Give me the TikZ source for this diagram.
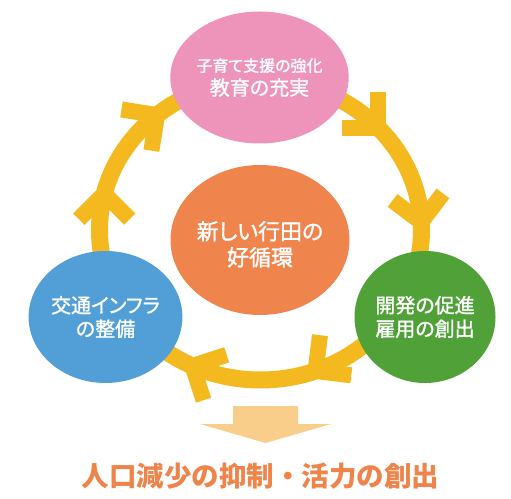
\documentclass[tikz,border=0pt]{standalone}
\usepackage{fontspec}
\usetikzlibrary{positioning,shapes.geometric}
\newfontfamily\jpfont[RawFeature={+palt;embolden=1.3}]{Noto Sans CJK JP}
\newfontfamily\jpwide{Noto Sans CJK JP}
\definecolor{RingYellow}{RGB}{243,185,31}
\definecolor{SoftPink}{RGB}{238,147,185}
\definecolor{HubOrange}{RGB}{239,133,77}
\definecolor{SkyBlue}{RGB}{82,158,214}
\definecolor{LeafGreen}{RGB}{80,162,56}
\definecolor{PaleOrange}{RGB}{249,205,138}
\definecolor{TextOrange}{RGB}{239,132,75}
\tikzset{
  stage/.style={ellipse,inner sep=0pt,minimum width=141pt,minimum height=132pt,
    text=white,align=center,font=\jpfont\fontsize{20}{23.5}\selectfont},
  hub/.style={stage,fill=HubOrange,minimum width=162pt,minimum height=150pt,
    font=\jpfont\fontsize{22}{26}\selectfont},
  ring/.style={RingYellow,line width=17pt},
  chevron/.style={RingYellow,line width=16pt},
  outflow/.style={fill=PaleOrange},
  result/.style={text=TextOrange,inner sep=0pt,
    font=\jpwide\bfseries\fontsize{27.5}{30}\selectfont}
}
\begin{document}
\begin{tikzpicture}[x=1pt,y=1pt]
  \useasboundingbox (0,0) rectangle (511,498);
  \coordinate (centre) at (260.5,268);
  % the cycle ring and its chevrons
  \draw[ring] (centre) ellipse [x radius=161,y radius=150];
  \foreach \t/\b in {43/135,3/98,-70/38,-115/-27,166/270,130/216}
    \draw[chevron] (centre) ++(\t:161 and 150) ++(\b+45:36)
      -- ++(\b+225:36) -- ++(\b-45:36);
  \node[hub] (hub) at (260,258) {\rule{0pt}{27pt}新しい行田の\\好循環};
  \node[stage,fill=SoftPink] (education) at (259.5,420.5)
    {{\fontsize{16}{23}\selectfont 子育て支援の強化}\\教育の充実};
  \node[stage,fill=SkyBlue] (transport) at (105.5,181) {交通インフラ\\の整備};
  \node[stage,fill=LeafGreen] (industry) at (425,181) {開発の促進\\雇用の創出};
  % block arrow to the result
  \coordinate (outtop) at (265.5,92);
  \fill[outflow] (outtop) ++(-32.5,0) -- ++(0,-18) -- ++(-33,0) -- ++(65.5,-19)
    -- ++(65.5,19) -- ++(-33,0) -- ++(0,18) -- cycle;
  \node[result] (result) at (260.5,22) {人口減少の抑制・活力の創出};
\end{tikzpicture}
\end{document}
